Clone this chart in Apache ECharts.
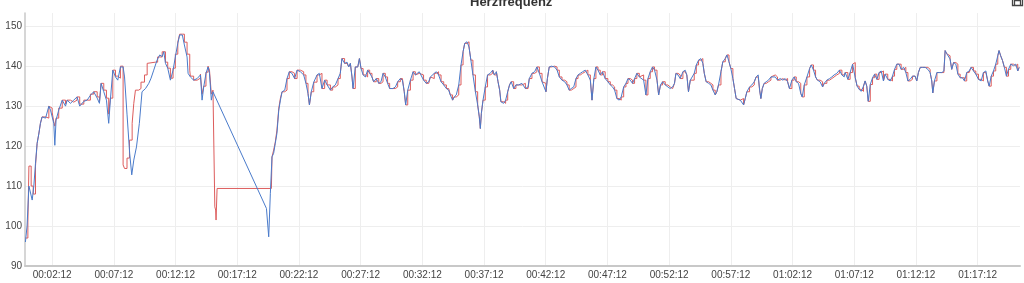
<!DOCTYPE html>
<html>
<head>
<meta charset="utf-8">
<script src="https://cdn.jsdelivr.net/npm/echarts@6/dist/echarts.min.js"></script>
<style>
html,body{margin:0;padding:0;background:#fff;}
#chart{width:1024px;height:283px;}
</style>
</head>
<body>
<div id="chart"></div>
<script>
// ---- data (time in seconds, heart rate in bpm) ----
var titleText = "Herzfrequenz";
var xTickSeconds = [132, 432, 732, 1032, 1332, 1632, 1932, 2232, 2532, 2832, 3132, 3432, 3732, 4032, 4332, 4632];
var yTicks = [90, 100, 110, 120, 130, 140, 150];

var blueSeries = [
[2,96],[10,100],[19,110],[27,110],[35,106.5],[43,110],[51,115.7],[59,120.7],[67,123],[75,125.7],[83,127.3],[100,127],[116,130],[124,129],[132,128.5],[140,125.7],[145,120.2],[151,126.5],[164,129],[181,131.5],[197,130],[205,131.5],[221,130.7],[237,131.5],[253,132.3],[266,130],[286,131.2],[302,131.5],[318,132.7],[334,133.6],[351,132],[362,130.7],[370,135.7],[383,133.6],[396,131.5],[407,125.7],[415,131.5],[427,139],[440,137.3],[451,136.5],[464,139.8],[477,139.8],[484,137.3],[496,128],[509,118.2],[519,112.8],[529,116.5],[542,119.8],[556,125.7],[569,133.6],[586,134.4],[602,135.7],[613,137],[626,139],[642,141.5],[655,142.8],[667,142.4],[675,143.6],[683,140.7],[694,139.5],[707,136.5],[720,139],[731,142.3],[743,145.7],[752,147.8],[765,147.8],[775,145.3],[788,142.3],
[793,138.2],[804,137.3],[820,136.5],[837,136.9],[853,137.8],[861,131.5],[869,134.8],[880,138.2],[890,139.8],[897,138.2],[906,131.5],[914,133.6],[921,132.8],[1174,104.4],[1185,97.3],[1193,108.2],[1201,117.3],[1209,118.2],[1217,120.7],[1225,123.2],[1234,129],[1242,131.5],[1250,133.6],[1263,134],[1274,136.9],[1285,138.6],[1298,138.2],[1311,136.9],[1323,139],[1339,138.6],[1355,137.8],[1366,135.7],[1376,133.2],[1383,130.3],[1392,133.6],[1404,136],[1420,137.8],[1431,138.2],[1444,134.4],[1457,136.5],[1469,135.3],[1485,134],[1496,134.8],[1509,135.3],[1522,136.9],[1533,138.2],[1541,141.9],[1554,140.7],[1566,141],[1574,139.8],
[1582,140.7],[1590,137.3],[1595,134.4],[1606,139.8],[1618,139.8],[1626,141.9],[1634,139.4],[1644,137.8],[1655,137.3],[1666,139],[1676,138.2],[1687,137.3],[1695,136.1],[1708,136.9],[1720,135.7],[1731,136.1],[1741,138.2],[1752,137.3],[1763,135.7],[1773,134.4],[1789,134.4],[1801,134.8],[1812,136.1],[1825,136.9],[1835,136.5],[1844,133.6],[1851,130.3],[1861,134],[1874,136.5],[1887,138.6],[1898,137.8],[1906,138.2],[1917,138.6],[1925,137.8],[1938,136.5],[1951,135.7],[1963,136.1],[1971,137.3],[1979,136.9],[1990,138.2],[2000,138.6],[2011,137.8],[2023,136.1],[2036,135.3],[2049,134.4],[2060,134],[2068,132.8],[2079,131.5],[2087,132.3],[2097,132.8],[2109,135.3],[2120,140.3],[2130,143.6],[2138,145.7],[2149,146.1],[2159,144.8],[2168,141.5],[2178,137.8],[2190,133.6],[2201,130.3],[2209,127.3],[2214,124.4],[2219,128.2],[2227,131.5],[2238,134.8],[2249,137.8],[2262,138.2],[2274,139],[2282,137.8],[2292,138.6],[2300,136.1],[2308,134],[2314,131.1],[2327,130.7],[2337,131.5],[2347,133.6],[2356,135.3],[2364,136.1],[2376,134.4],[2387,135.3],
[2400,135.3],[2416,135.7],[2433,134.4],[2446,134.8],[2452,136.9],[2465,138.2],[2478,138.6],[2489,139.8],[2501,138.2],[2514,136.1],[2523,135.7],[2533,133.6],[2540,136.9],[2549,139.8],[2559,140],[2575,139.8],[2587,139],[2598,137.3],[2611,136.5],[2624,136.1],[2635,135.3],[2646,134],[2656,134.4],[2668,134.8],[2679,136.9],[2689,137.8],[2700,138.2],[2711,138.6],[2724,139],[2737,137.8],[2749,136.5],[2757,131.5],[2766,136.9],[2776,139.8],[2786,139],[2797,137.8],[2808,138.6],[2821,136.9],[2834,136.1],[2846,135.3],[2857,134.8],[2867,134],[2878,131.9],[2889,131.5],[2899,132.3],[2911,134.8],[2922,135.7],[2932,136.9],[2943,136.5],[2954,135.7],[2964,136.9],[2975,138.2],[2987,137.3],[2996,137.8],[3008,136.5],[3019,132.8],[3029,136.9],[3040,138.6],[3051,139.8],[3061,139],[3073,136.5],[3081,132.8],[3090,135.3],[3100,136.1],[3113,135.3],[3126,134.8],[3137,134.4],[3149,134.8],[3158,135.7],[3165,138.2],[3175,137.8],[3186,136.9],
[3199,138.6],[3210,139],[3218,137.8],[3226,133.6],[3235,136.5],[3244,136.5],[3254,138.2],[3264,140.3],[3275,141.5],[3286,141.9],[3296,140.7],[3303,138.2],[3312,136.1],[3324,135.7],[3335,135.3],[3345,134],[3356,132.8],[3364,133.6],[3372,135.3],[3384,138.6],[3393,141.1],[3405,141.9],[3413,142.8],[3423,141.1],[3432,139.4],[3442,136.9],[3450,134.4],[3458,131.9],[3465,131.5],[3478,131.5],[3486,131.9],[3494,130.3],[3502,131.9],[3510,133.6],[3523,134.8],[3534,135.3],[3546,136.1],[3555,137.3],[3565,137.8],[3572,134],[3578,131.9],[3585,134.4],[3594,135.7],[3604,136.1],[3615,136.5],[3627,137.3],[3636,137.8],[3648,137.3],[3659,136.5],[3672,136.9],[3685,136.5],[3696,136.9],[3708,136.1],[3717,134.4],[3729,136.5],[3740,137.3],[3750,136.1],[3761,135.7],[3772,133.2],[3779,132.3],[3789,135.3],[3802,137.3],[3815,139.4],[3823,140.3],[3834,139],[3844,137.3],[3853,136.5],[3866,136.1],[3878,134.8],[3886,135.7],[3899,136.5],[3912,136.9],[3923,137.3],[3934,137.8],[3947,138.2],[3960,139],[3972,137.8],[3983,137.3],
[3988,138.4],[4001,136.7],[4012,138.4],[4024,140.5],[4030,140.9],[4037,137.1],[4046,135],[4056,134.2],[4066,133.7],[4077,135],[4085,136.3],[4093,135],[4100,131.2],[4110,135.4],[4121,137.1],[4131,138],[4142,136.7],[4153,138.4],[4163,138.8],[4174,136.3],[4182,138],[4195,136.7],[4207,136.3],[4218,137.5],[4228,139.2],[4239,140.5],[4250,140.5],[4260,139.2],[4272,139.7],[4283,138.4],[4293,136.3],[4304,136.7],[4315,137.5],[4328,137.5],[4336,136.3],[4344,138.4],[4353,139.7],[4364,139.7],[4377,139.7],[4390,139.2],[4401,138.4],[4409,136.3],[4414,133.3],[4422,136.3],[4434,138.4],[4445,138.4],[4458,138.4],[4468,138.8],[4474,143.9],[4482,143.1],[4490,142.6],[4498,141.8],[4506,139.2],[4515,140.9],[4526,140.5],[4536,138],[4547,137.1],[4558,137.1],[4568,136.3],[4579,138.4],[4591,138.8],[4600,139.7],[4612,138.8],[4623,138],[4636,136.7],[4649,136.3],[4660,138.4],[4672,138.8],[4681,136.3],[4688,135],[4698,137.5],[4709,138.8],[4720,140.5],[4730,142.6],[4736,143.9],[4744,142.6],[4753,141.4],[4762,139.7],[4772,137.5],[4782,139.2],[4793,140.5],[4806,140.1],[4817,140.5],[4827,138.8],[4834,139.7]
];

// red series where it differs from blue (first ~21 minutes)
var redEarly = [
[2,97],[14,101],[19,115],[30,110],[40,108],[51,115],[59,120.7],[67,123],[75,125.7],[83,127.3],[100,127],[116,130],[124,129.5],[132,128.5],[140,126],[145,125],[151,127],[164,129.5],[181,131.5],[197,130.5],[205,131.5],[221,131],[237,131.5],[253,132.3],[266,130.5],[286,131.5],[302,131.5],[318,133],[334,133.6],[351,132.3],[362,131],[370,135.7],[383,134],[396,132],[407,128],[415,132],[427,139],[440,137.5],[451,137],[464,140],[472,140],[477,115.3],[484,114.4],[496,117],[508,121.5],[521,125.7],[529,130.7],[537,134],[553,134.4],[564,136],[581,137.8],[594,140.7],[602,141],[634,141],[645,142.3],[667,143.6],[675,143.6],[683,141],[694,139.5],[707,137],[720,139.5],[731,143],[743,146],[752,148],[765,148],[775,146],[788,143],[801,139],[804,137.5],[820,136.5],[837,137],[853,138],[861,133],[869,135],[880,138.5],[890,140],[897,139],[906,133],[914,134],[921,134],[923,104.8],[927,104],[929,101.5],[934,109.4],[1198,109.4],[1201,117.3],[1209,119],[1217,121],[1225,124],[1234,129.5],[1242,132],[1250,133.6]
];
// afterwards the red trace coincides with the blue readings
var redSeries = redEarly.concat(blueSeries.filter(function (p) { return p[0] > 1250; }));

function fmt(sec) {
  var h = Math.floor(sec / 3600), m = Math.floor((sec % 3600) / 60), s = Math.round(sec % 60);
  function p(n) { return (n < 10 ? '0' : '') + n; }
  return p(h) + ':' + p(m) + ':' + p(s);
}

var chart = echarts.init(document.getElementById('chart'), null, {renderer: 'canvas'});
chart.setOption({
  animation: false,
  backgroundColor: '#fff',
  title: {
    text: titleText,
    left: 465,
    top: -9,
    textStyle: {fontFamily: 'Liberation Sans, Arial, sans-serif', fontSize: 13, fontWeight: 'bold', color: '#333'}
  },
  toolbox: {
    right: -16,
    top: -22,
    itemSize: 10,
    feature: {
      saveAsImage: {
        icon: 'path://M0,0 L8,0 L10,2 L10,10 L0,10 Z M2,5 L8,5 L8,10 L2,10 Z',
        iconStyle: {borderColor: '#444', borderWidth: 1.3}
      }
    }
  },
  grid: {left: 25, right: 4, top: 13, bottom: 17, containLabel: false},
  xAxis: {
    type: 'value',
    min: 0,
    max: 4838,
    axisLine: {show: true, lineStyle: {color: '#c8c8c8', width: 2}},
    axisTick: {show: false, customValues: xTickSeconds},
    axisLabel: {
      customValues: xTickSeconds,
      formatter: function (v) { return fmt(v); },
      fontSize: 10,
      fontFamily: 'Liberation Sans, Arial, sans-serif',
      color: '#444',
      margin: 4
    },
    splitLine: {show: true, lineStyle: {color: '#eeeeee', width: 1}}
  },
  yAxis: {
    type: 'value',
    min: 90,
    max: 153.3,
    axisLine: {show: true, lineStyle: {color: '#c8c8c8', width: 1.5}},
    axisTick: {show: false, customValues: yTicks},
    axisLabel: {
      customValues: yTicks,
      fontSize: 10,
      fontFamily: 'Liberation Sans, Arial, sans-serif',
      color: '#444',
      margin: 3
    },
    splitLine: {show: true, lineStyle: {color: '#eeeeee', width: 1}}
  },
  series: [
    {
      name: 'red',
      type: 'line',
      step: 'end',
      data: redSeries,
      showSymbol: false,
      lineStyle: {color: '#dd5c5c', width: 1},
      itemStyle: {color: '#dd5c5c'}
    },
    {
      name: 'blue',
      type: 'line',
      data: blueSeries,
      showSymbol: false,
      lineStyle: {color: '#4a7bcb', width: 1},
      itemStyle: {color: '#4a7bcb'}
    }
  ]
});
</script>
</body>
</html>
